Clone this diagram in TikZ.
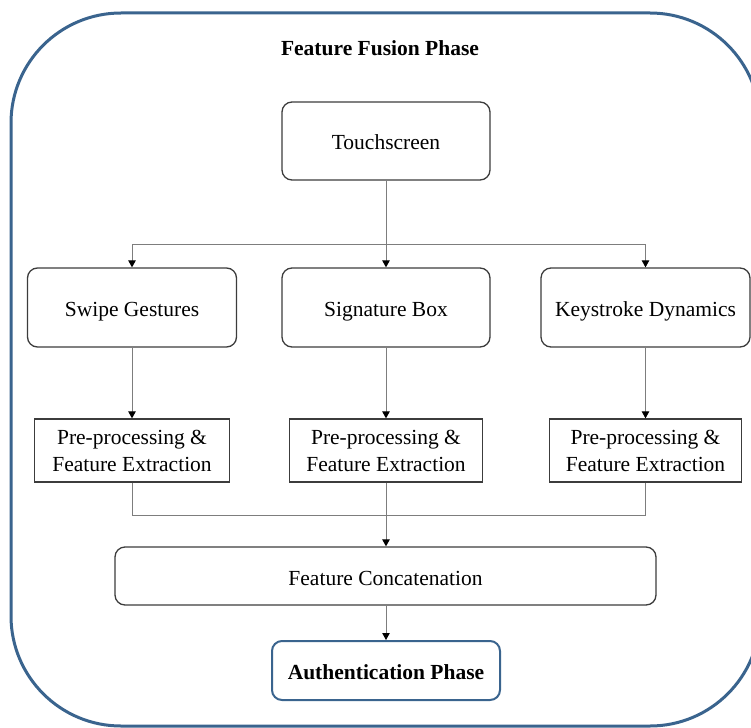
\documentclass[tikz,border=0pt]{standalone}
\usepackage{fontspec}
\setmainfont{Liberation Serif}
\usetikzlibrary{arrows.meta}
\definecolor{phaseblue}{RGB}{58,100,142}
\definecolor{boxline}{RGB}{60,60,60}
\definecolor{linkline}{RGB}{125,125,125}
\tikzset{
  every node/.style={font=\fontsize{21.5pt}{27pt}\selectfont, inner sep=0pt, align=center},
  oneline/.style={text height=22pt, text depth=4pt},
  roundbox/.style={draw=boxline, line width=1.3pt, rounded corners=10pt, fill=white, oneline},
  squarebox/.style={draw=boxline, line width=1.3pt, fill=white},
  phasebox/.style={draw=phaseblue, line width=2pt, rounded corners=10pt, fill=white, oneline, font=\fontsize{21.5pt}{26pt}\selectfont\bfseries},
  link/.style={draw=linkline, line width=0.9pt},
  linkarrow/.style={link, -{Triangle[length=7pt,width=7.5pt,color=black]}},
  frame/.style={draw=phaseblue, line width=3pt, rounded corners=110pt}
}
\begin{document}
\begin{tikzpicture}[x=1pt,y=-1pt]
  \useasboundingbox (0,0) rectangle (751,727);
  \clip (0,0) rectangle (751,727);
  % outer phase frame
  \draw[frame] (11,13) rectangle (760,726);
  \node[font=\fontsize{21.5pt}{26pt}\selectfont\bfseries] (title) at (380,48) {Feature Fusion Phase};

  % source device
  \node[roundbox, minimum width=208pt, minimum height=78pt] (touch) at (386,141) {Touchscreen};

  % modalities
  \node[roundbox, minimum width=209pt, minimum height=79pt] (swipe) at (132,307.5) {Swipe Gestures};
  \node[roundbox, minimum width=208pt, minimum height=79pt] (sig) at (386,307.5) {Signature Box};
  \node[roundbox, minimum width=209pt, minimum height=79pt] (key) at (645.5,307.5) {Keystroke Dynamics};

  % per-modality processing
  \node[squarebox, minimum width=195pt, minimum height=63pt] (pre1) at (132,450.5) {Pre-processing \&\\Feature Extraction};
  \node[squarebox, minimum width=193pt, minimum height=63pt] (pre2) at (386,450.5) {Pre-processing \&\\Feature Extraction};
  \node[squarebox, minimum width=192pt, minimum height=63pt] (pre3) at (645.5,450.5) {Pre-processing \&\\Feature Extraction};

  % fusion and output
  \node[roundbox, minimum width=541pt, minimum height=58pt] (concat) at (385.5,576) {Feature Concatenation};
  \node[phasebox, minimum width=228pt, minimum height=59pt] (auth) at (386,670.5) {Authentication Phase};

  % fan-out from the touchscreen
  \coordinate (split) at (386,244);
  \draw[linkarrow] (touch.south) -- (sig.north);
  \draw[linkarrow] (split) -| (swipe.north);
  \draw[linkarrow] (split) -| (key.north);

  % modality to processing
  \draw[linkarrow] (swipe.south) -- (pre1.north);
  \draw[linkarrow] (sig.south) -- (pre2.north);
  \draw[linkarrow] (key.south) -- (pre3.north);

  % merge into concatenation
  \coordinate (merge) at (386,515);
  \draw[link] (pre1.south) |- (merge);
  \draw[link] (pre3.south) |- (merge);
  \draw[linkarrow] (pre2.south) -- (pre2.south |- concat.north);

  \draw[linkarrow] (concat.south -| auth.north) -- (auth.north);
\end{tikzpicture}
\end{document}
